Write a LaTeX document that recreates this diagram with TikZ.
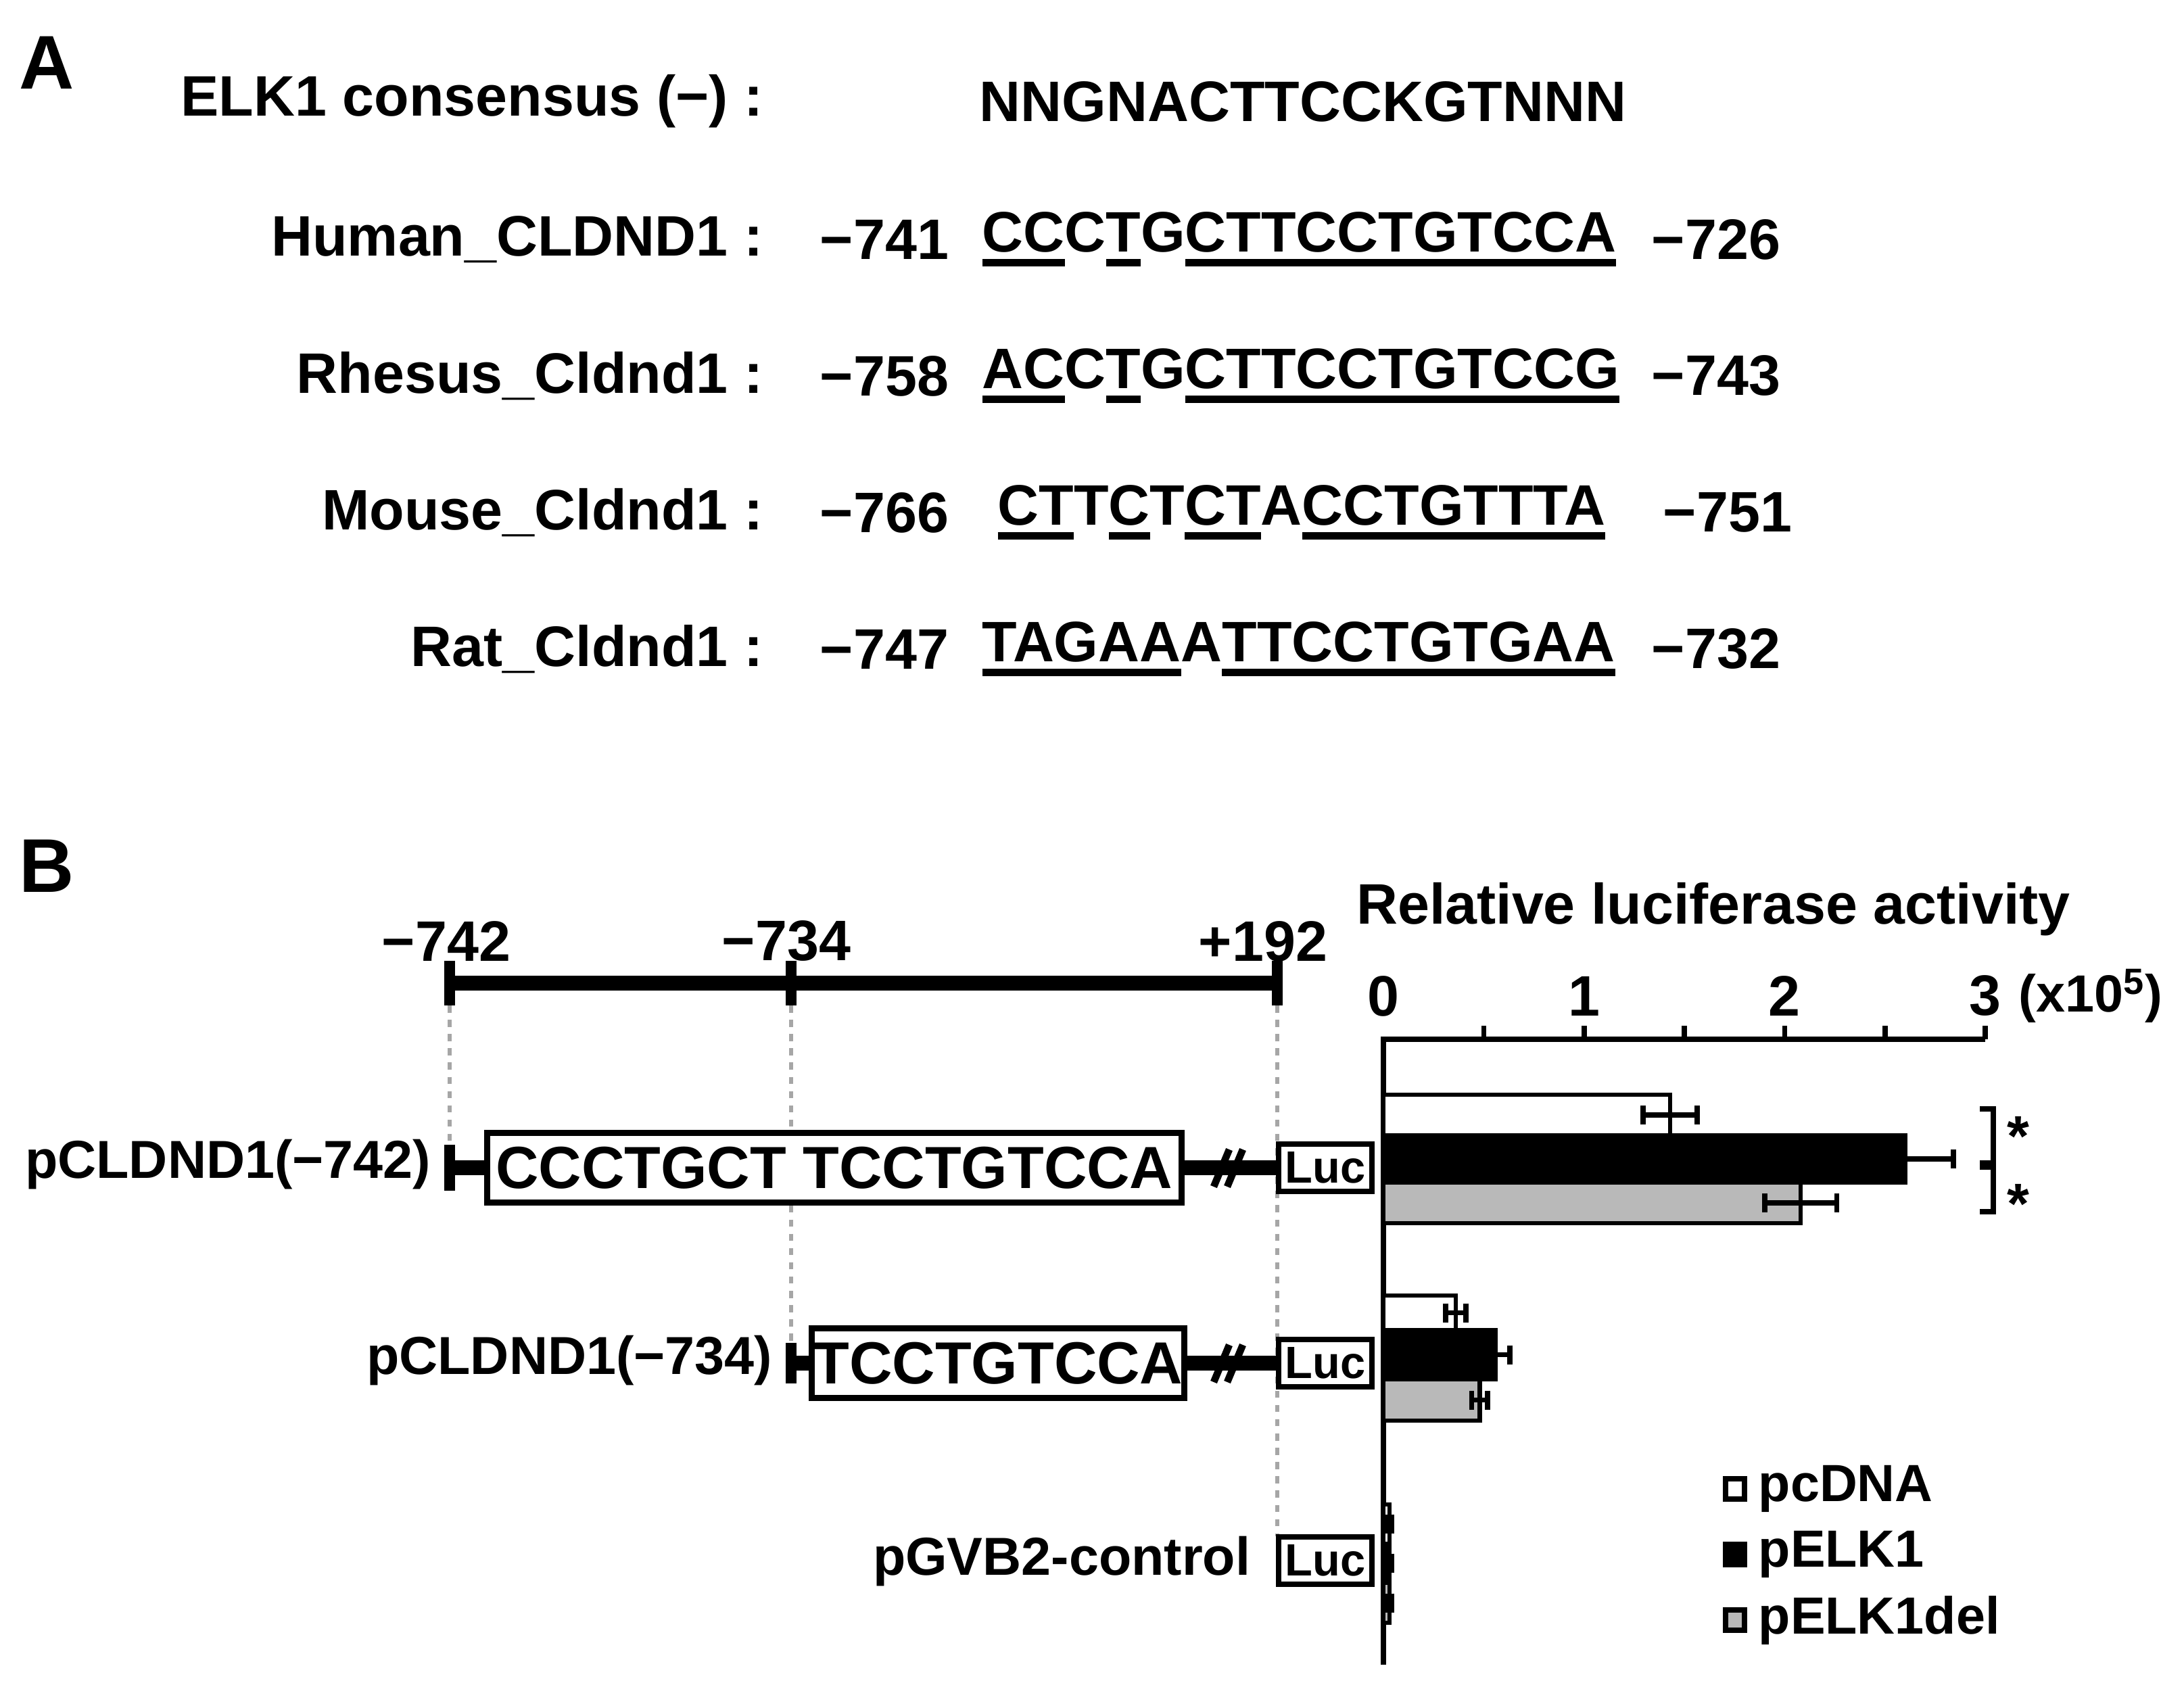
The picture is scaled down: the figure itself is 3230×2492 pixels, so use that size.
\documentclass[tikz,border=0pt]{standalone}
\usepackage{fontspec}
\setmainfont{Liberation Sans}
\newcommand\ul[1]{\setbox0\hbox{#1}\rlap{\raisebox{-6pt}{\rule{\wd0}{3pt}}}\box0}
\begin{document}
\begin{tikzpicture}[x=0.01cm,y=-0.01cm,
  every node/.style={font=\bfseries\fontsize{24pt}{27pt}\selectfont, inner sep=0pt},
  lbl/.style={anchor=east},
  blbl/.style={anchor=east, font=\bfseries\fontsize{22.5pt}{25pt}\selectfont},
  seq/.style={anchor=west},
  num/.style={anchor=center},
  big/.style={font=\bfseries\fontsize{32pt}{36pt}\selectfont},
  lucbox/.style={draw, fill=white, line width=2.5pt, minimum width=1.38cm, minimum height=0.70cm, font=\bfseries\fontsize{19pt}{21pt}\selectfont},
  seqbox/.style={draw, fill=white, line width=2.5pt, minimum height=1.03cm, font=\bfseries\fontsize{25pt}{28pt}\selectfont},
  guide/.style={gray!70, dashed, line width=1.5pt},
  thick bar/.style={line width=6pt},
  barstyle/.style={draw, line width=1.8pt},
  err/.style={line width=2.2pt}]
\useasboundingbox (0,0) rectangle (3230,2492);
% Panel A
\node[big,anchor=west] (A) at (28,93) {A};
\node[lbl] (l0) at (1129,150) {ELK1 consensus (−) :};
\node[lbl] (l1) at (1129,354) {Human\_CLDND1 :};
\node[lbl] (l2) at (1129,556) {Rhesus\_Cldnd1 :};
\node[lbl] (l3) at (1129,758) {Mouse\_Cldnd1 :};
\node[lbl] (l4) at (1129,960) {Rat\_Cldnd1 :};
\node[seq] (s0) at (1448,150) {NNGNACTTCCKGTNNN};
\node[seq] (s1) at (1452,354) {\ul{CC}C\ul{T}G\ul{CTTCCTGTCCA}};
\node[seq] (s2) at (1452,556) {\ul{AC}C\ul{T}G\ul{CTTCCTGTCCG}};
\node[seq] (s3) at (1475,758) {\ul{CT}T\ul{C}T\ul{CT}A\ul{CCTGTTTA}};
\node[seq] (s4) at (1452,960) {\ul{TAGAA}A\ul{TTCCTGTGAA}};
\node[num] (n1a) at (1308,354) {−741};
\node[num] (n2a) at (1308,556) {−758};
\node[num] (n3a) at (1308,758) {−766};
\node[num] (n4a) at (1308,960) {−747};
\node[num] (n1b) at (2538,354) {−726};
\node[num] (n2b) at (2538,556) {−743};
\node[num] (n3b) at (2555,758) {−751};
\node[num] (n4b) at (2538,960) {−732};
% Panel B
\node[big,anchor=west] (B) at (28,1281) {B};
\coordinate (t1) at (665,1454);
\coordinate (t2) at (1170,1454);
\coordinate (t3) at (1889,1454);
\draw[thick bar] (t1) -- (t3);
\foreach \c in {t1,t2,t3} \draw[line width=4.5pt] ([yshift=0.33cm]\c) -- ([yshift=-0.33cm]\c);
\node (m1) at (660,1392) {−742};
\node (m2) at (1163,1392) {−734};
\node (m3) at (1868,1392) {+192};
% guides
\draw[guide] ([yshift=-0.33cm]t1) -- (665,1693);
\draw[guide] ([yshift=-0.33cm]t2) -- (1170,1985);
\draw[guide] ([yshift=-0.33cm]t3) -- (1889,2272);
% construct 1
\node[seqbox, minimum width=10.26cm] (b1) at (1234,1727) {CCCTGCT TCCTGTCCA};
\node[lucbox] (luc1) at (1960,1727) {Luc};
\coordinate (k1) at (665,1727);
\draw[line width=4.5pt] ([yshift=0.34cm]k1) -- ([yshift=-0.34cm]k1);
\draw[thick bar] (k1) -- (b1.west);
\draw[thick bar] (b1.east) -- (luc1.west);
\draw[line width=3pt] (1795,1755) -- (1818,1700) (1815,1755) -- (1838,1700);
\node[blbl] (p1) at (638,1722) {pCLDND1(−742)};
% construct 2
\node[seqbox, minimum width=5.5cm] (b2) at (1476,2016) {TCCTGTCCA};
\node[lucbox] (luc2) at (1960,2016) {Luc};
\coordinate (k2) at (1170,2016);
\draw[line width=4.5pt] ([yshift=0.3cm]k2) -- ([yshift=-0.3cm]k2);
\draw[thick bar] (k2) -- (b2.west);
\draw[thick bar] (b2.east) -- (luc2.west);
\draw[line width=3pt] (1795,2044) -- (1818,1989) (1815,2044) -- (1838,1989);
\node[blbl] (p2) at (1143,2012) {pCLDND1(−734)};
% control
\node[lucbox] (luc3) at (1960,2308) {Luc};
\node[blbl] (p3) at (1850,2309) {pGVB2-control};
% chart
\def\X#1{2046+296.7*(#1)}
\coordinate (o) at (2046,1537);
\coordinate (o3) at (2936,1537);
\coordinate (ob) at (2046,2462);
\draw[line width=2.2pt] (o3) -- (o) -- (ob);
\foreach \v in {0.5,1,1.5,2,2.5,3} \draw[line width=2.2pt] ({\X{\v}},1537) -- ({\X{\v}},1517);
\foreach \v in {0,1,2,3} \node (tk\v) at ({\X{\v}},1473) {\v};
\node[anchor=west, font=\bfseries\fontsize{22pt}{25pt}\selectfont] (unit) at (2985,1473) {(x10\textsuperscript{5})};
\node (title) at (2534,1345) {Relative luciferase activity};
\foreach \v/\a/\b/\f/\e in {1.43/1619/1679/white/0.135, 2.60/1679/1749/black/0.24, 2.08/1749/1809/gray!55/0.18,
  0.36/1916/1967/white/0.05, 0.56/1967/2040/black/0.07, 0.48/2040/2101/gray!55/0.04,
  0.03/2225/2283/white/0.01, 0.03/2283/2341/black/0.01, 0.03/2341/2400/gray!55/0.01}{
  \draw[barstyle, fill=\f] (2046,\a) rectangle ({\X{\v}},\b);
  \draw[err] ({\X{\v-\e}},{(\a+\b)/2}) -- ({\X{\v+\e}},{(\a+\b)/2});
  \draw[err] ({\X{\v-\e}},{(\a+\b)/2-14}) -- ({\X{\v-\e}},{(\a+\b)/2+14});
  \draw[err] ({\X{\v+\e}},{(\a+\b)/2-14}) -- ({\X{\v+\e}},{(\a+\b)/2+14});
}
\draw[line width=2.5pt] (2928,1640) -- (2948,1640) -- (2948,1720) -- (2928,1720);
\draw[line width=2.5pt] (2928,1726) -- (2948,1726) -- (2948,1792) -- (2928,1792);
\node (st1) at (2985,1680) {*};
\node (st2) at (2985,1780) {*};
% legend
\foreach \y/\f/\t in {2202/white/pcDNA, 2299/black/pELK1, 2396/gray!55/pELK1del}{
  \draw[line width=2.5pt, fill=\f] (2552,\y-15) rectangle (2580,\y+15);
  \node[anchor=west, font=\bfseries\fontsize{22pt}{25pt}\selectfont] at (2600,\y) {\t};
}
\end{tikzpicture}
\end{document}
